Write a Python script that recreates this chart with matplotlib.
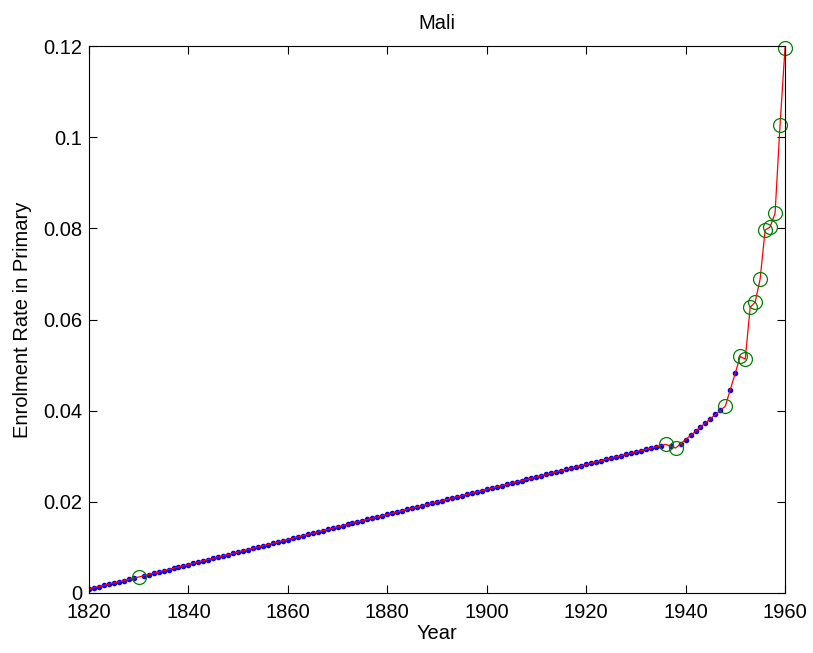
import numpy as np
import matplotlib
matplotlib.use("Agg")
import matplotlib.pyplot as plt

plt.rcParams["font.family"] = ["Liberation Sans", "DejaVu Sans"]

# Observed enrolment rates (green circles)
obs_years = [1830, 1936, 1938, 1948, 1951, 1952, 1953, 1954, 1955, 1956, 1957, 1958, 1959, 1960]
obs_rate = [0.0035, 0.0326, 0.0318, 0.0410, 0.0519, 0.0513, 0.0627, 0.0638, 0.0689, 0.0796,
            0.0803, 0.0833, 0.1026, 0.1195]

# start of the imputed series
start_year = 1820
start_rate = 0.0009

years = np.arange(1820, 1961)
series = np.interp(years, [start_year] + obs_years, [start_rate] + obs_rate)
imputed = ~np.isin(years, obs_years)

fig = plt.figure(figsize=(8.13, 6.53), dpi=100)
ax = fig.add_axes([89 / 813, 1 - 593 / 653, 696 / 813, 547 / 653])

ax.plot(years[imputed], series[imputed], ".", color="blue", markersize=6)
ax.plot(years, series, "-", color="red", linewidth=0.9)
ax.plot(obs_years, obs_rate, "o", markerfacecolor="none", markeredgecolor="green",
        markersize=10, markeredgewidth=0.9, clip_on=False)

ax.set_xlim(1820, 1960)
ax.set_ylim(0, 0.12)
ax.set_xticks([1820, 1840, 1860, 1880, 1900, 1920, 1940, 1960])
ax.set_yticks([0, 0.02, 0.04, 0.06, 0.08, 0.1, 0.12])
ax.set_yticklabels(["0", "0.02", "0.04", "0.06", "0.08", "0.1", "0.12"])
ax.tick_params(direction="in", top=True, right=True, labelsize=14.5, length=6, width=0.8)
ax.tick_params(axis="x", pad=7.5)
ax.tick_params(axis="y", pad=5)
for s in ax.spines.values():
    s.set_linewidth(0.8)

ax.set_title("Mali", fontsize=14.5, pad=12)
ax.set_xlabel("Year", fontsize=14.5, labelpad=1)
ax.set_ylabel("Enrolment Rate in Primary", fontsize=14.5, labelpad=8)

fig.savefig("out.png", dpi=100)
